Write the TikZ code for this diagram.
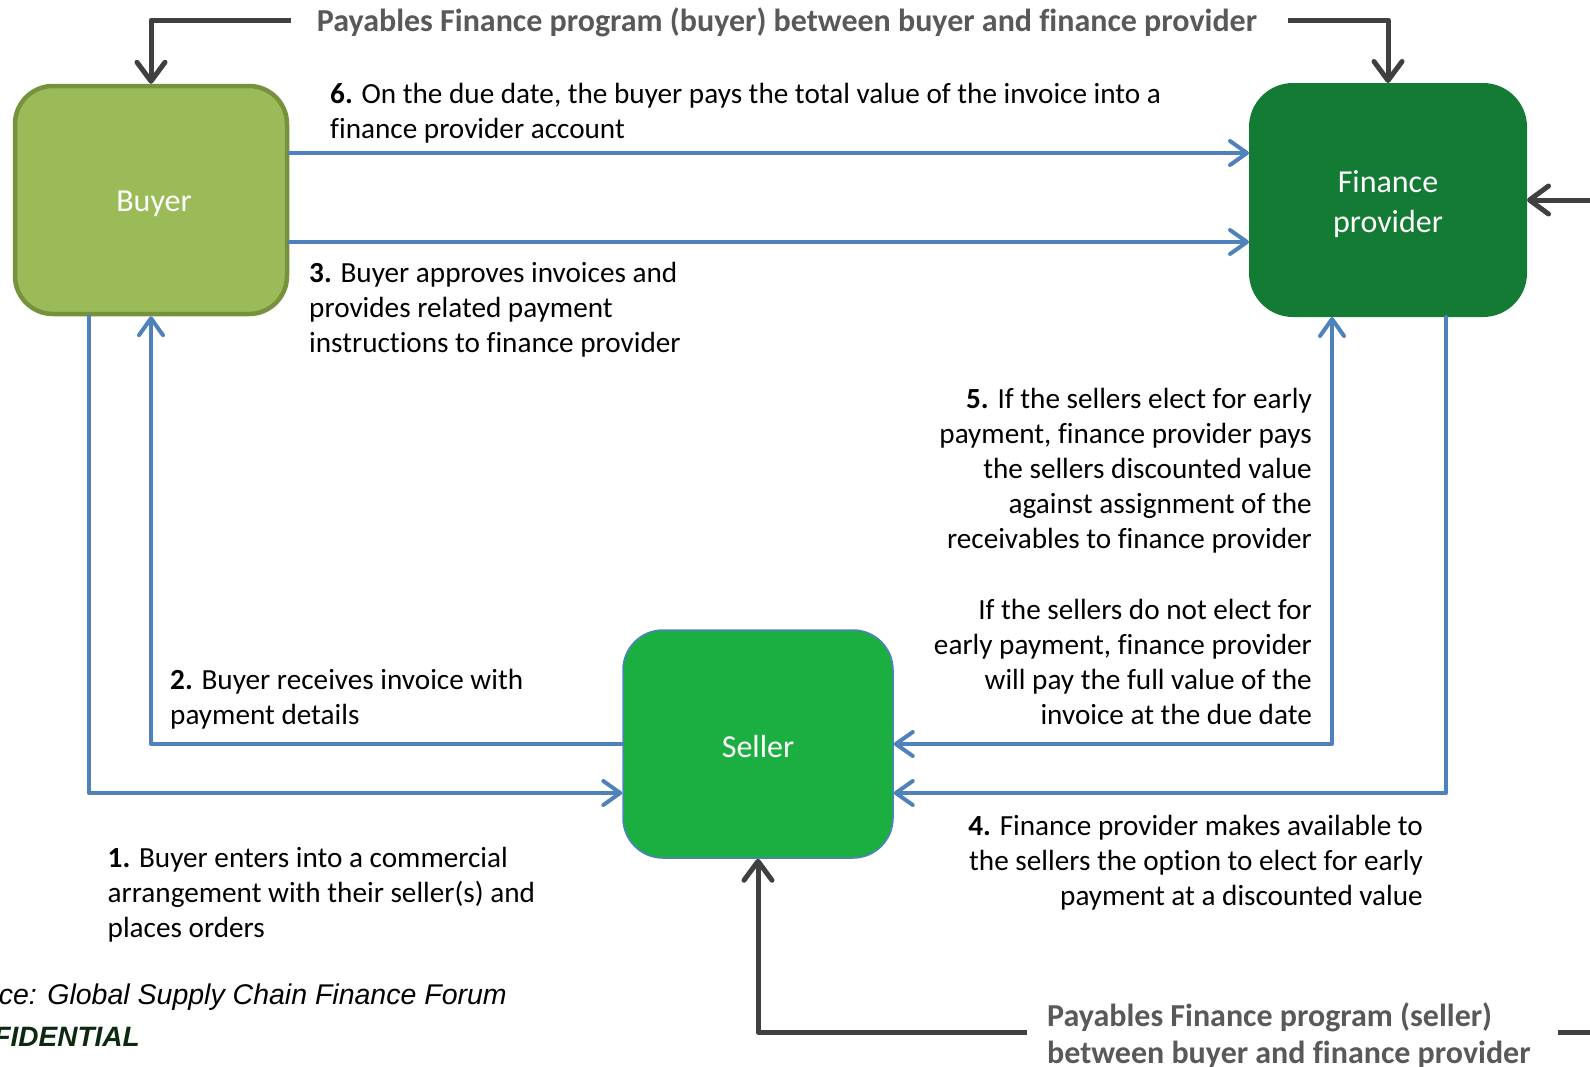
\documentclass[tikz,border=0pt]{standalone}
\usepackage{fontspec}
\setmainfont{Carlito}[Ligatures=CommonOff]
\newfontfamily\arialfont{Liberation Sans}
\usetikzlibrary{arrows.meta}
\definecolor{buyerfill}{HTML}{9BBB59}
\definecolor{buyerline}{HTML}{76923C}
\definecolor{fpfill}{HTML}{137B34}
\definecolor{sellerfill}{HTML}{1BAF42}
\definecolor{bluline}{HTML}{4F81BD}
\definecolor{gryline}{HTML}{404040}
\definecolor{titlegray}{HTML}{595959}
\definecolor{confgreen}{HTML}{0D2A10}
\begin{document}
\begin{tikzpicture}[x=1pt,y=-1pt,
  boxlabel/.style={text=white, font=\fontsize{32}{39.5}\selectfont, align=center, inner sep=0pt},
  bluarrow/.style={draw=bluline, line width=4pt, line cap=round, line join=round,
     -{Straight Barb[length=17pt,width=24pt,line cap=round,line join=round]}},
  bluboth/.style={draw=bluline, line width=4pt, line cap=round, line join=round,
     {Straight Barb[length=17pt,width=24pt,line cap=round,line join=round]}-{Straight Barb[length=17pt,width=24pt,line cap=round,line join=round]}},
  gryarrow/.style={draw=gryline, line width=5pt, line join=round,
     -{Straight Barb[length=19pt,width=28pt,line cap=round,line join=round]}},
  gryline/.style={draw=gryline, line width=5pt},
  body/.style={font=\fontsize{29.2}{35.2}\selectfont, inner sep=0pt, text=black},
  bodyl/.style={body, align=left, anchor=north west},
  bodyr/.style={body, align=right, anchor=north east},
  prog/.style={font=\fontsize{32}{37}\selectfont\bfseries, text=titlegray, inner sep=0pt},
  srcnote/.style={font=\fontsize{28.5}{32}\selectfont\arialfont\itshape, inner sep=0pt, anchor=east}
]
\useasboundingbox (0,0) rectangle (1590,1066);
\clip (0,0) rectangle (1590,1066);

% boxes
\node[draw=buyerline, line width=4.5pt, fill=buyerfill, rounded corners=38pt,
      minimum width=272pt, minimum height=228pt, inner sep=0pt] (buyer) at (151,200) {};
\node[boxlabel] (buyerlbl) at (154,204) {Buyer};
\node[fill=fpfill, rounded corners=44pt, minimum width=278pt, minimum height=234pt,
      inner sep=0pt, outer sep=0pt] (fp) at (1388,200) {};
\node[boxlabel] (fplbl) at (1388,204) {Finance\\provider};
\node[draw=bluline, line width=1.5pt, fill=sellerfill, rounded corners=40pt,
      minimum width=270pt, minimum height=228pt, inner sep=0pt] (seller) at (758,744) {};
\node[boxlabel] (sellerlbl) at (758,746) {Seller};

% helper coordinates
\coordinate (h6) at (0,153);
\coordinate (h3) at (0,242);
\coordinate (h1) at (0,793);
\coordinate (v1) at (89,0);
\coordinate (v5) at (1332,0);
\coordinate (v4) at (1446,0);
\coordinate (tl) at (291,20);
\coordinate (tr) at (1288,20);
\coordinate (rr) at (1600,200);
\coordinate (br) at (1027,1032);
\coordinate (brA) at (1558,1032);
\coordinate (brB) at (1600,1032);

% blue connectors
\draw[bluarrow] (buyer.east |- h6) -- (fp.west |- h6);
\draw[bluarrow] (buyer.east |- h3) -- (fp.west |- h3);
\draw[bluarrow] (seller.west) -| (buyer.south);
\draw[bluarrow] (buyer.south -| v1) |- (seller.west |- h1);
\draw[bluboth] (seller.east) -| (fp.south -| v5);
\draw[bluarrow] (fp.south -| v4) |- (seller.east |- h1);

% gray connectors
\draw[gryarrow] (tl) -| (buyer.north);
\draw[gryarrow] (tr) -| (fp.north);
\draw[gryarrow] (rr) -- (fp.east);
\draw[gryarrow] (br) -| (seller.south);
\draw[gryline] (brA) -- (brB);

% program titles
\node[prog, anchor=center] (ptop) at (787,22)
  {Payables Finance program (buyer) between buyer and finance provider};
\node[prog, align=left, anchor=north west] (pbot) at (1047,1003)
  {Payables Finance program (seller)\\between buyer and finance provider};

% step texts
\node[bodyl] (t6) at (330,83)
  {\textbf{6.} On the due date, the buyer pays the total value of the invoice into a\\finance provider account};
\node[bodyl] (t3) at (309,262)
  {\textbf{3.} Buyer approves invoices and\\provides related payment\\instructions to finance provider};
\node[bodyr] (t5) at (1312,387.6)
  {\textbf{5.} If the sellers elect for early\\payment, finance provider pays\\the sellers discounted value\\against assignment of the\\receivables to finance provider\\[35.2pt]If the sellers do not elect for\\early payment, finance provider\\will pay the full value of the\\invoice at the due date};
\node[bodyl] (t2) at (170,669)
  {\textbf{2.} Buyer receives invoice with\\payment details};
\node[bodyl] (t1) at (107.5,847)
  {\textbf{1.} Buyer enters into a commercial\\arrangement with their seller(s) and\\places orders};
\node[bodyr] (t4) at (1423,815)
  {\textbf{4.} Finance provider makes available to\\the sellers the option to elect for early\\payment at a discounted value};

% source notes
\node[srcnote] (src) at (507,997) {ce: Global Supply Chain Finance Forum};
\node[srcnote, font=\fontsize{28}{32}\selectfont\arialfont\bfseries\itshape, text=confgreen] (conf) at (140,1037) {FIDENTIAL};
\end{tikzpicture}
\end{document}
